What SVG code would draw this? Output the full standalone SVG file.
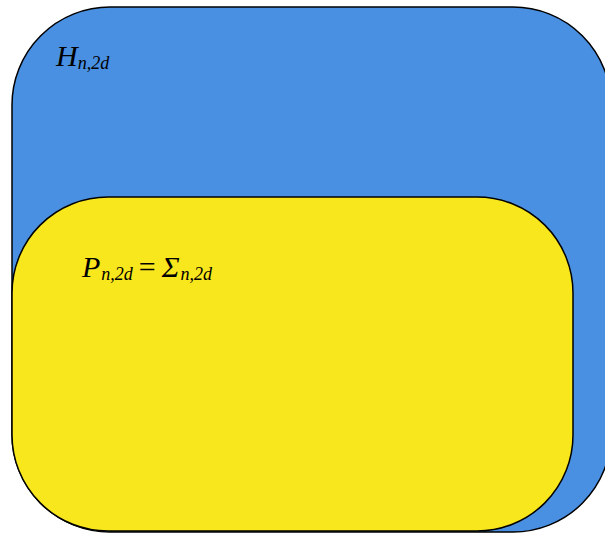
<svg xmlns="http://www.w3.org/2000/svg" width="605" height="533" viewBox="0 0 605 533">
<style>
.set{stroke:#000;stroke-width:1.5}
.t{font-family:"Liberation Serif",serif;font-style:italic;fill:#000}
.m{font-size:30px}
.s{font-size:18px}
</style>
<rect width="605" height="533" fill="#fff"/>
<g id="H">
<rect class="set" x="12" y="7" width="599" height="525" rx="98" ry="98" fill="#4A90E2"/>
<text class="t m" x="56" y="66">H<tspan class="s" dy="3" dx="0">n,2d</tspan></text>
</g>
<g id="P">
<rect class="set" x="12" y="197" width="561" height="334" rx="96" ry="96" fill="#F8E71C"/>
<text class="t m" x="82" y="277">P<tspan class="s" dy="3" dx="1">n,2d</tspan><tspan dy="-3" dx="6" font-style="normal">=</tspan><tspan dx="6">Σ</tspan><tspan class="s" dy="3" dx="1">n,2d</tspan></text>
</g>
<g id="connectors"/>
</svg>
